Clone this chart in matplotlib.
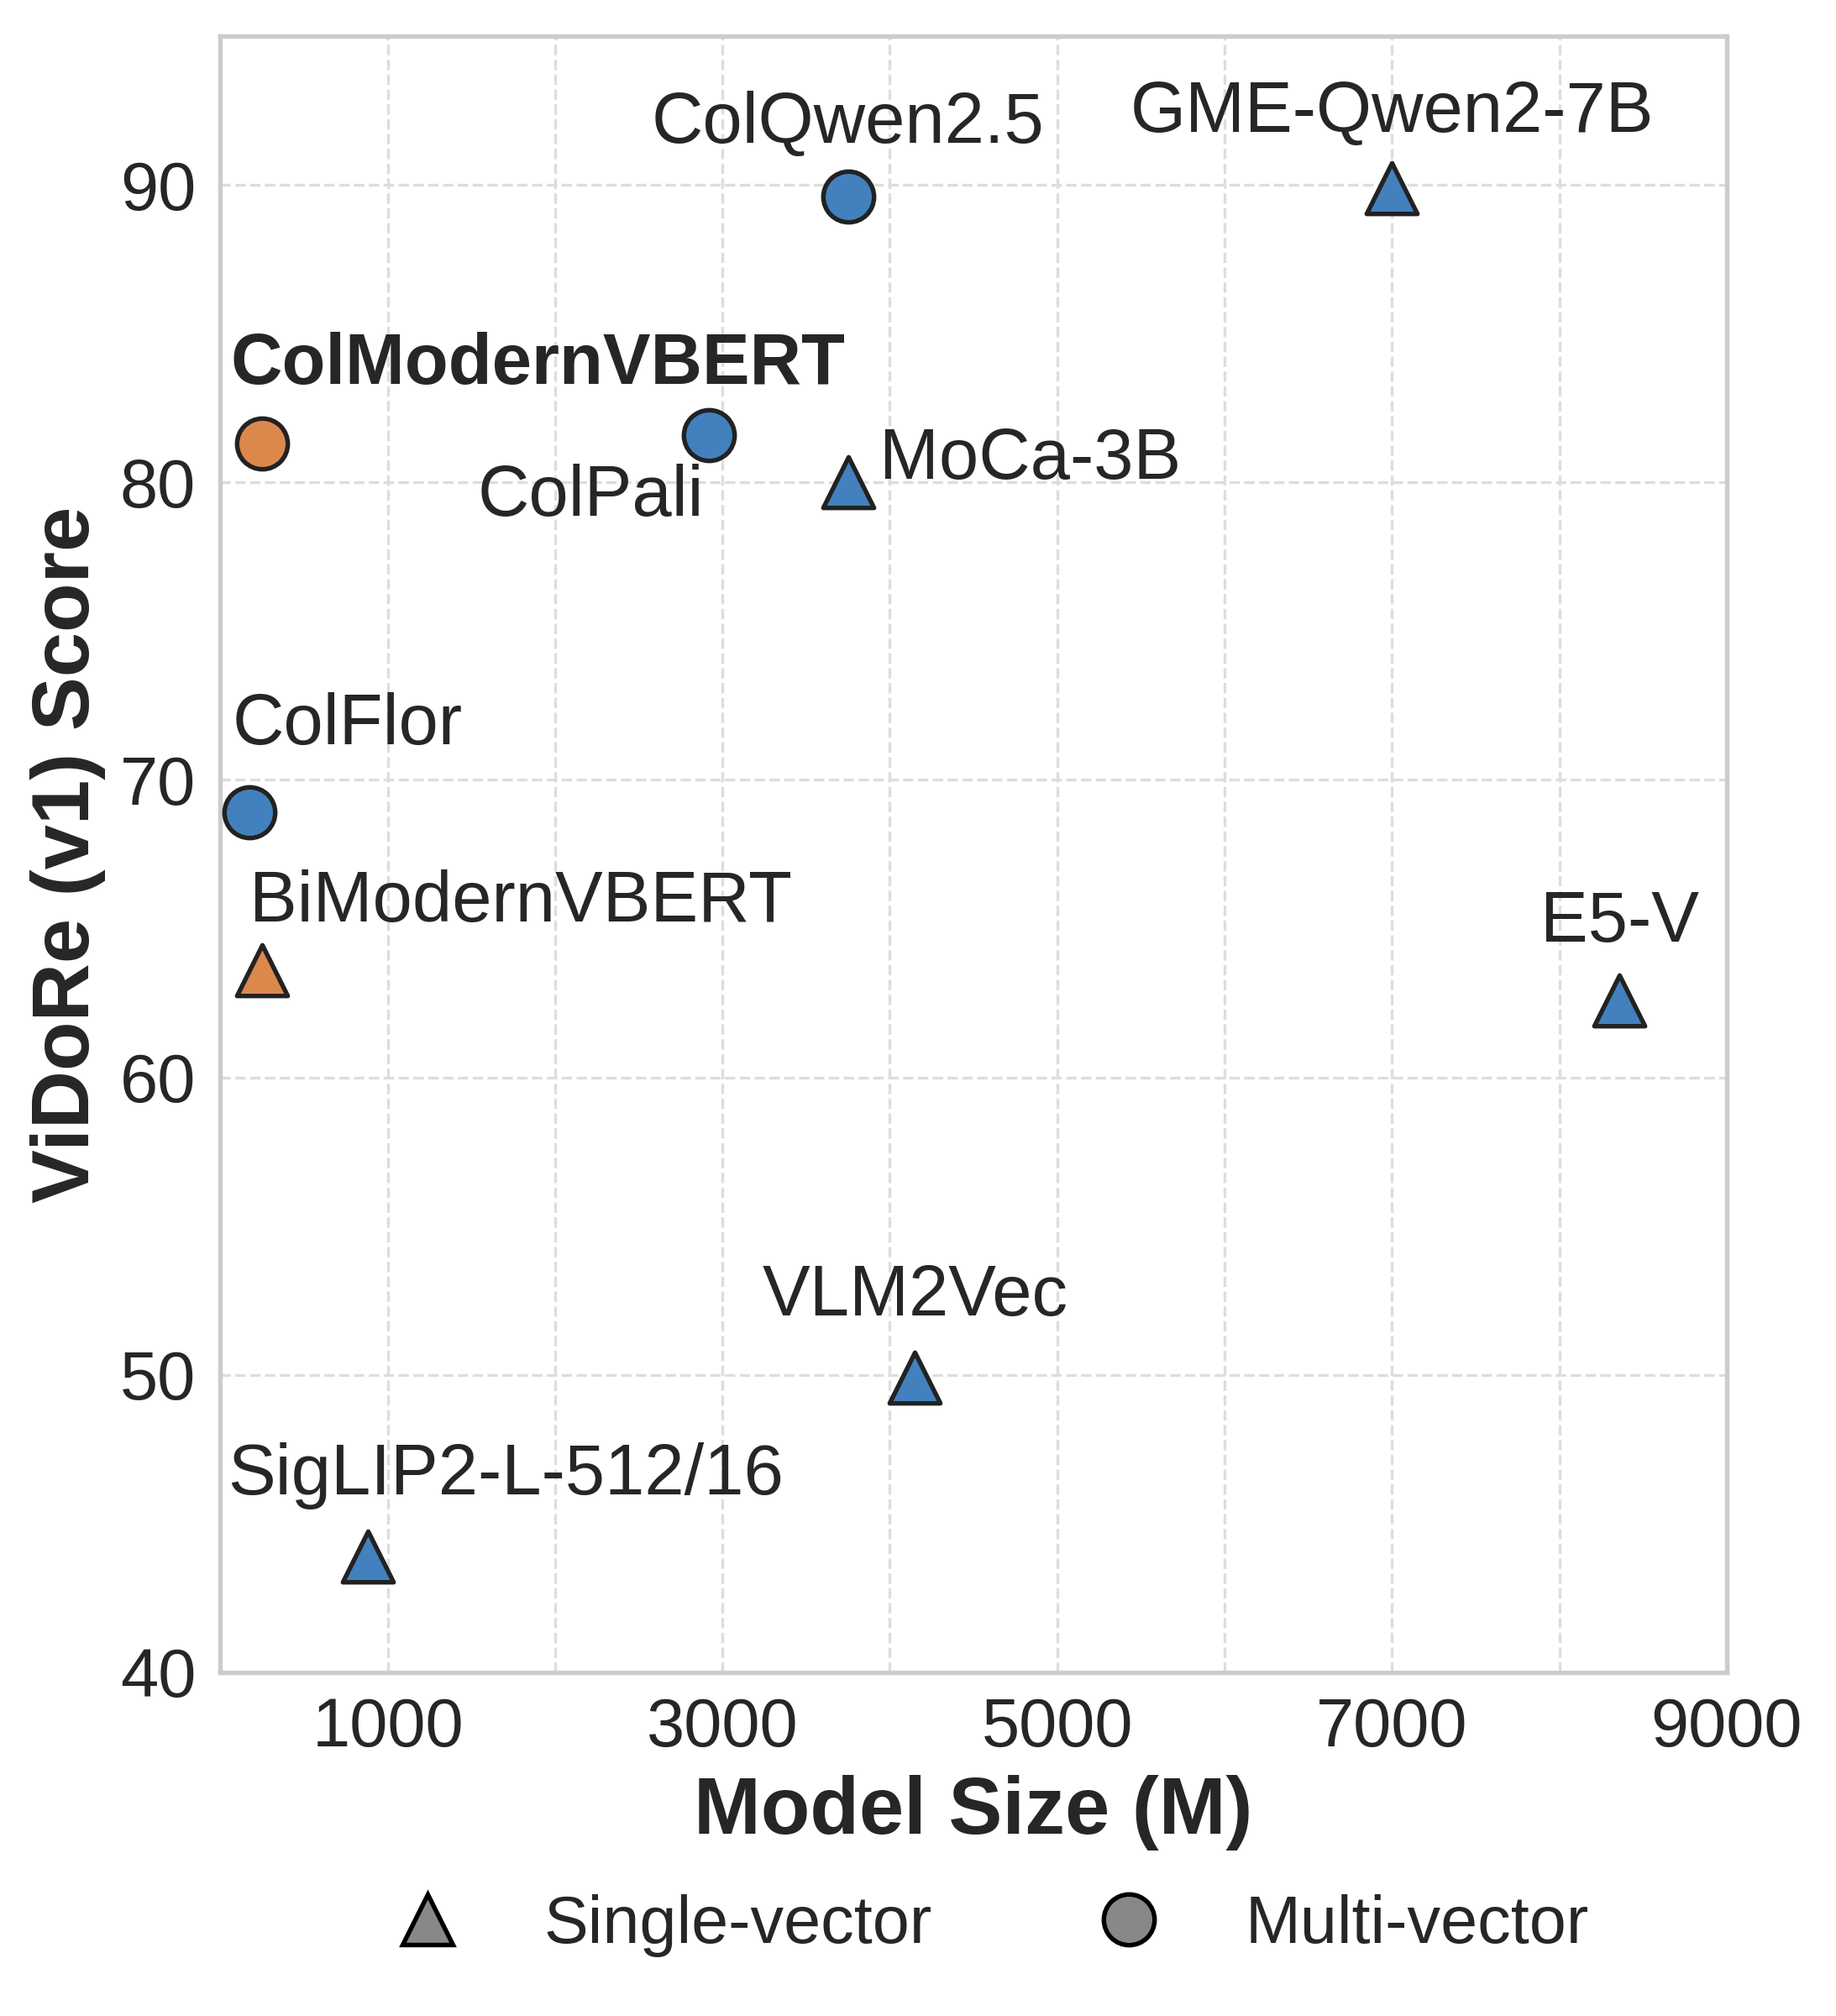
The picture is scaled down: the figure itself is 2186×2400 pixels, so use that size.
import numpy as np
import matplotlib
matplotlib.use("Agg")
import matplotlib.pyplot as plt
import seaborn as sns
from matplotlib.lines import Line2D

sns.set_style("whitegrid")
plt.rcParams['font.family'] = ['Liberation Sans', 'DejaVu Sans']
plt.rcParams['text.color'] = '#262626'

# datos
modelos = ["ColModernVBERT", "ColQwen2.5", "ColPali", "ColFlor",
           "BiModernVBERT", "MoCa-3B", "GME-Qwen2-7B", "E5-V",
           "VLM2Vec", "SigLIP2-L-512/16"]
tamano = [250, 3750, 2920, 174, 250, 3750, 7000, 8360, 4150, 880]
score = [81.3, 89.6, 81.6, 68.9, 63.6, 80.0, 89.9, 62.6, 49.9, 43.9]
tipo = ["multi", "multi", "multi", "multi", "single", "single", "single",
        "single", "single", "single"]
nuestro = [True, False, False, False, True, False, False, False, False, False]

# offsets de etiquetas (puntos) y alineacion
offsets = {
    "ColModernVBERT": (-9, 17, "left"),
    "ColQwen2.5": (0, 15.5, "center"),
    "ColPali": (-1.5, -23, "right"),
    "ColFlor": (-5, 19.5, "left"),
    "BiModernVBERT": (-3.7, 14, "left"),
    "MoCa-3B": (9, 1, "left"),
    "GME-Qwen2-7B": (0, 16, "center"),
    "E5-V": (0, 16.6, "center"),
    "VLM2Vec": (0, 17.7, "center"),
    "SigLIP2-L-512/16": (39.5, 17.7, "center"),
}

azul = "#4281bd"
naranja = "#db884d"
borde = "#222222"

fig, ax = plt.subplots(figsize=(2186 / 300, 2400 / 300), dpi=300)
fig.subplots_adjust(left=0.12, right=0.9405, top=0.982, bottom=0.1705)

for m, x, y, t, o in zip(modelos, tamano, score, tipo, nuestro):
    mk = "o" if t == "multi" else "^"
    col = naranja if o else azul
    ax.scatter(x, y, s=210, marker=mk, color=col, edgecolors=borde,
               linewidths=1.3, zorder=3)
    dx, dy, ha = offsets[m]
    ax.annotate(m, (x, y), xytext=(dx, dy), textcoords="offset points",
                ha=ha, va="baseline", fontsize=20.4,
                fontweight="bold" if m == "ColModernVBERT" else "normal")

ax.set_xlim(0, 9000)
ax.set_ylim(40, 95)
ax.set_xticks(np.arange(1000, 9001, 1000))
ax.set_xticklabels([str(v) if (v // 1000) % 2 == 1 else "" for v in range(1000, 9001, 1000)])
ax.set_yticks([40, 50, 60, 70, 80, 90])
ax.tick_params(labelsize=19.5, colors='#262626')
ax.grid(True, linestyle="--", color="#dddddd", linewidth=0.8)
for sp in ax.spines.values():
    sp.set_color("#cccccc")
    sp.set_linewidth(1.3)

ax.set_xlabel("Model Size (M)", fontsize=23, fontweight="bold")
ax.set_ylabel("ViDoRe (v1) Score", fontsize=23, fontweight="bold")

handles = [
    Line2D([], [], marker="^", linestyle="none", markersize=14.5,
           markerfacecolor="#888888", markeredgecolor="black", markeredgewidth=1.3,
           label="Single-vector"),
    Line2D([], [], marker="o", linestyle="none", markersize=14.5,
           markerfacecolor="#888888", markeredgecolor="black", markeredgewidth=1.3,
           label="Multi-vector"),
]
fig.legend(handles=handles, loc="center", bbox_to_anchor=(0.531, 0.045), ncol=2,
           frameon=False, fontsize=19, columnspacing=1.95, handletextpad=0.75)

fig.savefig("out.png", dpi=300)
